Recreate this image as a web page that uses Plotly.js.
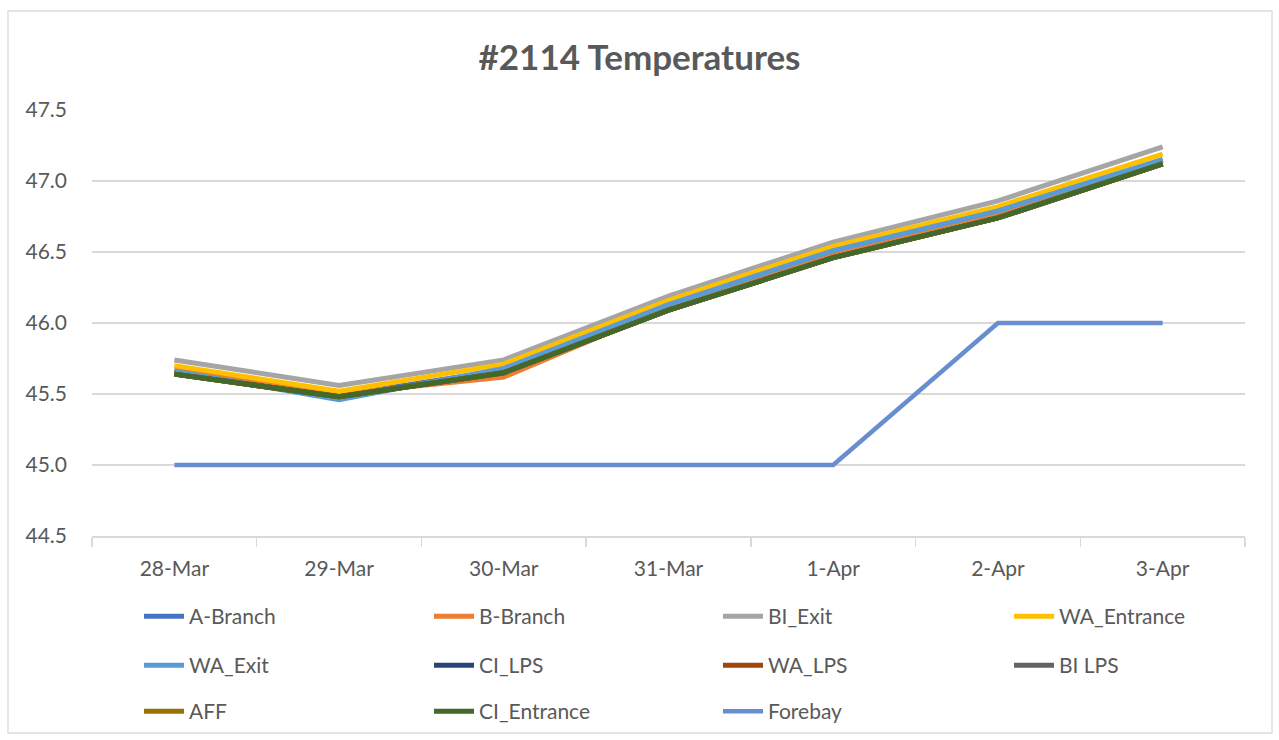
<!DOCTYPE html>
<html><head><meta charset="utf-8">
<script src="https://cdn.plot.ly/plotly-3.0.1.min.js"></script>
<style>html,body{margin:0;padding:0;background:#fff}#chart{width:1279px;height:740px}</style>
</head><body><div id="chart"></div>
<script>
const dates = ["28-Mar","29-Mar","30-Mar","31-Mar","1-Apr","2-Apr","3-Apr"];
const aBranch    = [45.66,45.49,45.67,46.12,46.50,46.78,47.15];
const bBranch    = [45.67,45.50,45.62,46.11,46.49,46.77,47.14];
const biExit     = [45.74,45.56,45.74,46.19,46.57,46.86,47.24];
const waEntrance = [45.70,45.52,45.71,46.16,46.54,46.82,47.19];
const waExit     = [45.66,45.46,45.68,46.13,46.51,46.79,47.15];
const ciLps      = [45.64,45.48,45.65,46.09,46.46,46.74,47.12];
const waLps      = [45.64,45.48,45.65,46.09,46.46,46.74,47.12];
const biLps      = [45.64,45.48,45.65,46.09,46.46,46.74,47.12];
const aff        = [45.64,45.48,45.65,46.09,46.46,46.74,47.12];
const ciEntrance = [45.64,45.48,45.65,46.09,46.46,46.74,47.12];
const forebay    = [45.0,45.0,45.0,45.0,45.0,46.0,46.0];

const seriesNames = ["A-Branch","B-Branch","BI_Exit","WA_Entrance","WA_Exit","CI_LPS","WA_LPS","BI LPS","AFF","CI_Entrance","Forebay"];
const seriesData = [aBranch,bBranch,biExit,waEntrance,waExit,ciLps,waLps,biLps,aff,ciEntrance,forebay];
const seriesColors = ["#4472C4","#ED7D31","#A5A5A5","#FFC000","#5B9BD5","#264478","#9E480E","#636363","#997300","#43682B","#698ED0"];

const fontFam = "Lato, 'Open Sans', sans-serif";
const legendKey = i => i === 0 ? 'legend' : 'legend' + (i + 1);

const traces = seriesNames.map((n,i)=>({
  x: dates, y: seriesData[i], name: n, type: 'scatter', mode: 'lines',
  line: {color: seriesColors[i], width: i===10 ? 4.5 : 5, shape: 'linear'},
  legend: legendKey(i),
  hoverinfo: 'skip'
}));

const layout = {
  width: 1279, height: 740,
  margin: {l: 92, r: 34, t: 110, b: 204},
  paper_bgcolor: '#fff', plot_bgcolor: '#fff',
  font: {family: fontFam, color: '#595959', size: 21},
  title: {text: '<b>#2114 Temperatures</b>', x: 0.5, xref: 'container', xanchor: 'center', y: 0.922, yanchor: 'middle',
          font: {family: fontFam, size: 35, color: '#595959'}},
  showlegend: true,
  xaxis: {type: 'category', range: [-0.5, 6.5], showgrid: false, showline: true, linecolor: '#d9d9d9', linewidth: 1.5,
          ticks: 'outside', tickson: 'boundaries', ticklen: 9, tickcolor: '#d9d9d9', tickwidth: 1.5,
          ticklabelstandoff: 13, tickfont: {size: 21, color: '#595959'}, zeroline: false, fixedrange: true},
  yaxis: {range: [44.5, 47.5], dtick: 0.5, tickformat: '.1f', showgrid: true, gridcolor: '#d9d9d9', gridwidth: 1.5,
          showline: false, zeroline: false, ticks: '', ticklabelstandoff: 24,
          tickfont: {size: 21, color: '#595959'}, fixedrange: true},
  shapes: [{type: 'rect', xref: 'paper', yref: 'paper',
            x0: -84/1153, x1: 1180/1153, y0: (536-733)/426, y1: (536-11)/426,
            line: {color: '#d9d9d9', width: 1.3}, fillcolor: 'rgba(0,0,0,0)', layer: 'below'}]
};
const colX = [139, 429, 718, 1009];
const rowTop = [596, 645, 691];
seriesNames.forEach((n,i)=>{
  const r = Math.floor(i/4), c = i % 4;
  layout[legendKey(i)] = {
    orientation: 'h', xref: 'container', yref: 'container',
    x: colX[c]/1279, xanchor: 'left', y: 1 - rowTop[r]/740, yanchor: 'top',
    bgcolor: 'rgba(0,0,0,0)', font: {family: fontFam, size: 21, color: '#595959'}, itemwidth: 40
  };
});
Plotly.newPlot('chart', traces, layout, {displayModeBar: false, staticPlot: true});
</script></body></html>
